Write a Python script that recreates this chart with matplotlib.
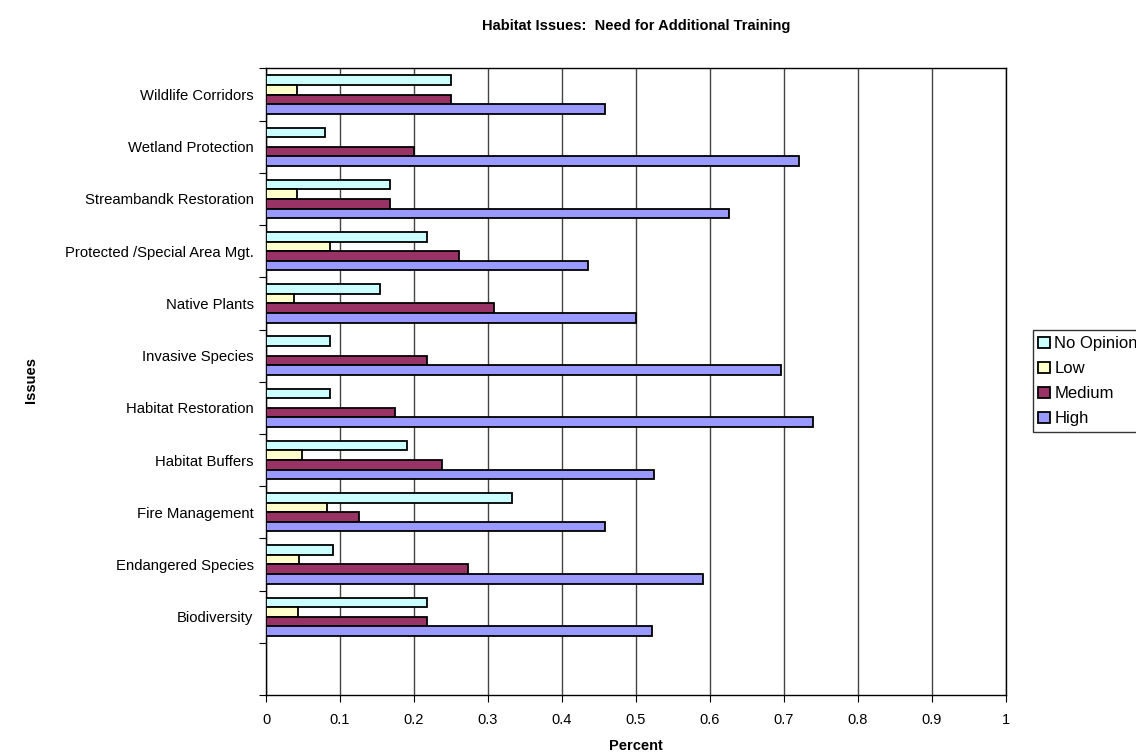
import matplotlib
matplotlib.use("Agg")
import matplotlib.pyplot as plt
import numpy as np

plt.rcParams['font.family'] = ['Liberation Sans', 'DejaVu Sans']

categories = ["Biodiversity", "Endangered Species", "Fire Management", "Habitat Buffers",
              "Habitat Restoration", "Invasive Species", "Native Plants",
              "Protected /Special Area Mgt.", "Streambandk Restoration",
              "Wetland Protection", "Wildlife Corridors"]
series_names = ["No Opinion", "Low", "Medium", "High"]
no_opinion = [0.217, 0.091, 0.333, 0.190, 0.087, 0.087, 0.154, 0.217, 0.167, 0.080, 0.250]
low        = [0.043, 0.045, 0.083, 0.048, 0.0, 0.0, 0.038, 0.087, 0.042, 0.0, 0.042]
medium     = [0.217, 0.273, 0.125, 0.238, 0.174, 0.217, 0.308, 0.261, 0.167, 0.200, 0.250]
high       = [0.522, 0.591, 0.458, 0.524, 0.739, 0.696, 0.500, 0.435, 0.625, 0.720, 0.458]
colors = ["#CCFFFF", "#FFFFCC", "#993366", "#9999FF"]
x_ticks = [0, 0.1, 0.2, 0.3, 0.4, 0.5, 0.6, 0.7, 0.8, 0.9, 1]

fig = plt.figure(figsize=(11.36, 7.55), dpi=100)
ax = fig.add_axes([0.2342, 0.0795, 0.6514, 0.8298])

series = [no_opinion, low, medium, high]
h = 0.1835
centers = np.arange(1, len(categories) + 1)
for i, (vals, col, name) in enumerate(zip(series, colors, series_names)):
    offs = (1.5 - i) * h
    ax.barh(centers + offs, vals, height=h, color=col, edgecolor="black",
            linewidth=1.3, label=name, zorder=3)

ax.set_xlim(0, 1)
ax.set_ylim(-0.5, len(categories) + 0.5)
ax.set_xticks(x_ticks)
ax.set_xticklabels([f"{t:g}" for t in x_ticks], fontsize=10.5)
ax.xaxis.grid(True, color="#444444", linewidth=1.0, zorder=0)

# boundary ticks between categories, labels at category centres
ax.set_yticks(np.arange(-0.5, len(categories) + 1, 1.0))
ax.set_yticklabels([])
ax.set_yticks(centers, minor=True)
ax.set_yticklabels(categories, minor=True, fontsize=10.7)
ax.tick_params(axis="y", which="minor", length=0, pad=9)
ax.tick_params(axis="y", which="major", length=5, direction="out")
ax.tick_params(axis="x", length=5, direction="out", pad=8)

for s in ax.spines.values():
    s.set_color("black")
    s.set_linewidth(1.0)

fig.text(0.56, 0.965, "Habitat Issues:  Need for Additional Training", ha="center",
         va="center", fontsize=10.5, fontweight="bold")
fig.text(0.56, 0.012, "Percent", ha="center", va="center", fontsize=10.5, fontweight="bold")
fig.text(0.027, 0.497, "Issues", ha="center", va="center", rotation=90,
         fontsize=10.5, fontweight="bold")

leg = fig.legend(loc="center left", bbox_to_anchor=(0.909, 0.495), fontsize=12,
                 frameon=True, fancybox=False, edgecolor="black", handlelength=0.7,
                 handleheight=0.7, handletextpad=0.25, labelspacing=0.6,
                 borderpad=0.35, borderaxespad=0)
leg.get_frame().set_linewidth(1.0)

fig.savefig("out.png", dpi=100)
